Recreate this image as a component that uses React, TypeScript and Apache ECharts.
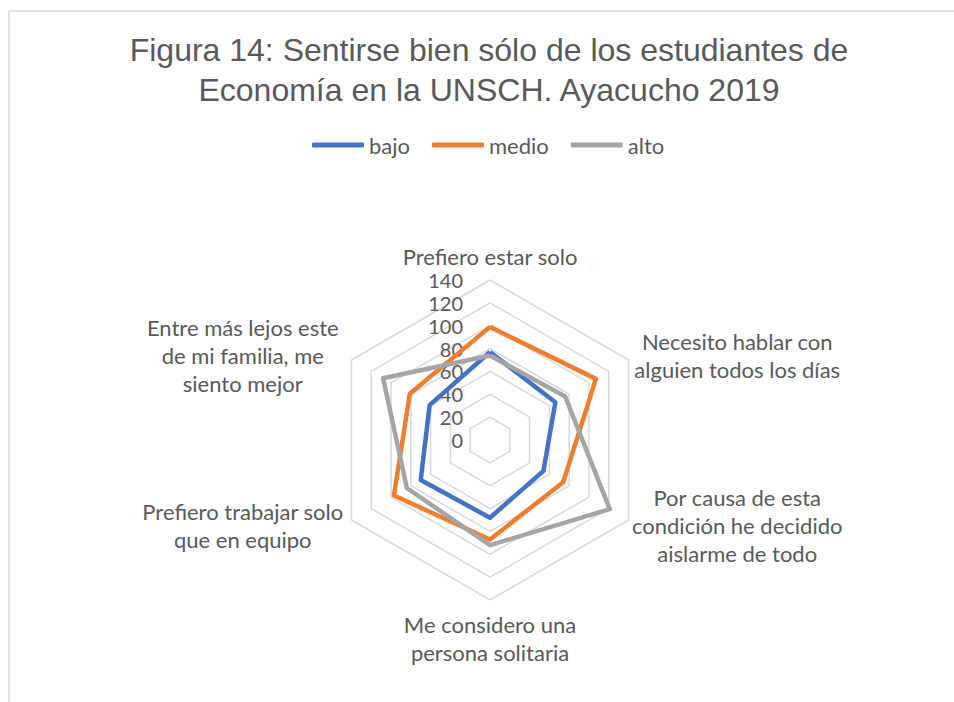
import React, { useEffect, useRef } from "react";
import * as echarts from "echarts";

const titleLines = [
  "Figura 14: Sentirse bien sólo de los estudiantes de",
  "Economía en la UNSCH. Ayacucho 2019",
];
// Categories in the reference's clockwise order, starting at the top
const categories = [
  "Prefiero estar solo",
  "Necesito hablar con\nalguien todos los días",
  "Por causa de esta\ncondición he decidido\naislarme de todo",
  "Me considero una\npersona solitaria",
  "Prefiero trabajar solo\nque en equipo",
  "Entre más lejos este\nde mi familia, me\nsiento mejor",
];
const seriesNames = ["bajo", "medio", "alto"];
const bajo = [77, 66, 54, 68, 70, 61];
const medio = [99, 107, 74, 87, 97, 81];
const alto = [74, 76, 121, 92, 84, 108];
const seriesColors = ["#4472C4", "#ED7D31", "#A5A5A5"];
const axisMin = 0;
const axisMax = 140;
const axisSplits = 7;

const LABEL_FONT = "Lato";
const TEXT_COLOR = "#595959";

export default function App() {
  const ref = useRef<HTMLDivElement>(null);

  useEffect(() => {
    if (!ref.current) return;
    const chart = echarts.init(ref.current, null, { renderer: "svg" });

    // ECharts lays radar indicators out counter-clockwise; reorder for clockwise display
    const order = [0, 5, 4, 3, 2, 1];
    const indicator = order.map((i, k) => {
      const ind: any = { name: categories[i], min: axisMin, max: axisMax };
      if (k === 0) ind.axisLabel = { show: true };
      return ind;
    });
    const allValues = [bajo, medio, alto];

    const option: any = {
      animation: false,
      backgroundColor: "#ffffff",
      graphic: [
        {
          type: "rect",
          z: -10,
          shape: { x: 9, y: 11, width: 960, height: 700 },
          style: { fill: "none", stroke: "#D9D9D9", lineWidth: 1.5 },
          silent: true,
        },
        {
          type: "text",
          x: 489,
          y: 70,
          style: {
            text: titleLines.join("\n"),
            align: "center",
            verticalAlign: "middle",
            fontFamily: "Liberation Sans",
            fontSize: 32,
            lineHeight: 40,
            fill: TEXT_COLOR,
          },
        },
      ],
      legend: {
        left: 312,
        top: 134,
        padding: 0,
        itemGap: 22,
        itemWidth: 52,
        itemHeight: 5,
        icon: "roundRect",
        data: seriesNames,
        textStyle: { color: TEXT_COLOR, fontFamily: LABEL_FONT, fontSize: 22 },
      },
      radar: {
        center: [490, 440],
        radius: 160,
        startAngle: 90,
        splitNumber: axisSplits,
        shape: "polygon",
        nameGap: 10,
        axisName: {
          color: TEXT_COLOR,
          fontFamily: LABEL_FONT,
          fontSize: 22,
          formatter: (name: string) =>
            name
              .split("\n")
              .map((l) => `{c|${l}}`)
              .join("\n"),
          rich: {
            c: {
              width: 200,
              align: "center",
              fontFamily: LABEL_FONT,
              fontSize: 22,
              lineHeight: 28,
              color: TEXT_COLOR,
            },
          },
        },
        splitLine: { lineStyle: { color: "#D9D9D9", width: 1.5 } },
        splitArea: { show: false },
        axisLine: { show: false },
        axisTick: { show: false },
        axisLabel: {
          show: false,
          color: TEXT_COLOR,
          fontFamily: LABEL_FONT,
          fontSize: 20,
          lineHeight: 18,
          margin: 27,
        },
        indicator,
      },
      series: [
        {
          type: "radar",
          symbol: "none",
          lineStyle: { width: 4.5 },
          data: allValues.map((vals, s) => ({
            name: seriesNames[s],
            value: order.map((i) => vals[i]),
            lineStyle: { color: seriesColors[s], width: 4.5 },
            itemStyle: { color: seriesColors[s] },
          })),
        },
      ],
    };
    chart.setOption(option);
    return () => chart.dispose();
  }, []);

  return (
    <div
      ref={ref}
      style={{ position: "absolute", left: 0, top: 0, width: 954, height: 702 }}
    />
  );
}
